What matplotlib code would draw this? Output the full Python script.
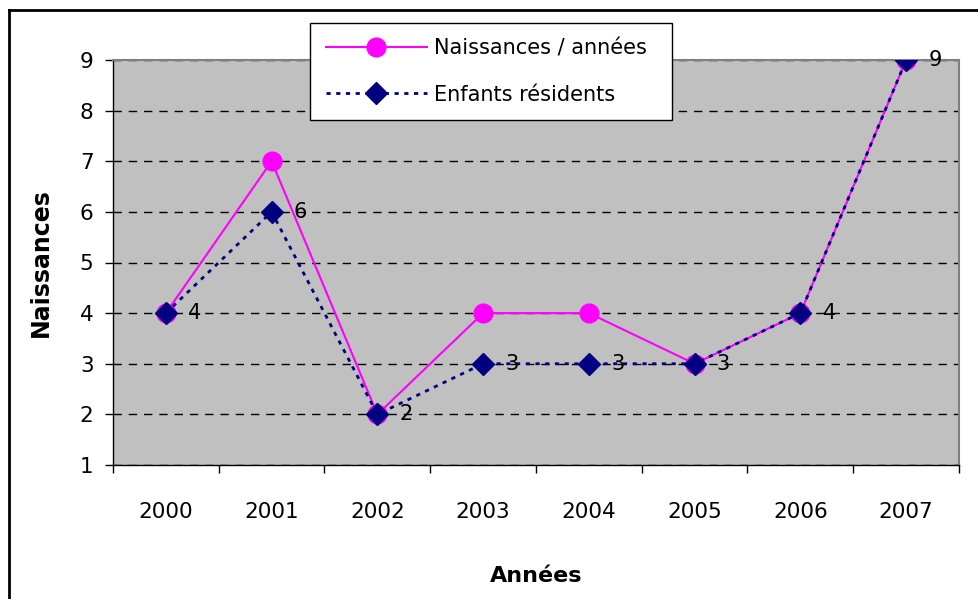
import matplotlib
matplotlib.use("Agg")
import matplotlib.pyplot as plt
from matplotlib.lines import Line2D

years = ["2000", "2001", "2002", "2003", "2004", "2005", "2006", "2007"]
naissances = [4, 7, 2, 4, 4, 3, 4, 9]
enfants = [4, 6, 2, 3, 3, 3, 4, 9]
y_ticks = [1, 2, 3, 4, 5, 6, 7, 8, 9]

plt.rcParams['font.family'] = ['DejaVu Sans']

W, H = 979, 599
fig = plt.figure(figsize=(W / 100, H / 100), dpi=100)
fig.patch.set_facecolor("white")

left, right, top, bottom = 113, 959, 60, 465
ax = fig.add_axes([left / W, 1 - bottom / H, (right - left) / W, (bottom - top) / H])
ax.set_facecolor("#C0C0C0")

x = list(range(len(years)))
ax.plot(x, naissances, color="#FF00FF", lw=1.5, marker="o", markersize=13.5,
        markerfacecolor="#FF00FF", markeredgecolor="#FF00FF", label="Naissances / années", zorder=3)
ax.plot(x, enfants, color="#000080", lw=2, linestyle=(0, (1.5, 2)), marker="D", markersize=11.5,
        markerfacecolor="#000080", markeredgecolor="#000080", label="Enfants résidents", zorder=4)

for xi, v in zip(x, enfants):
    ax.annotate(str(v), (xi, v), xytext=(16, 0), textcoords="offset points",
                va="center", ha="left", fontsize=15, color="black", zorder=5)

ax.set_xlim(-0.5, len(years) - 0.5)
ax.set_ylim(1, 9)
ax.set_yticks(y_ticks)
ax.set_yticklabels([str(v) for v in y_ticks])
ax.yaxis.grid(True, color="black", linestyle=(0, (6, 5)), lw=1)
ax.set_axisbelow(True)

ax.set_xticks([i - 0.5 for i in range(len(years) + 1)])
ax.set_xticklabels([])
ax.set_xticks(x, minor=True)
ax.set_xticklabels(years, minor=True)
ax.tick_params(axis="x", which="major", direction="out", length=6, width=1, color="black")
ax.tick_params(axis="x", which="minor", length=0, pad=27, labelsize=15.5)
ax.tick_params(axis="y", direction="out", length=6, width=1, color="black", pad=8, labelsize=15.5)

for s in ["top", "right"]:
    ax.spines[s].set_color("#808080")
    ax.spines[s].set_linewidth(1.5)
for s in ["left", "bottom"]:
    ax.spines[s].set_color("black")
    ax.spines[s].set_linewidth(1)

ax.set_xlabel("Années", fontsize=16, fontweight="bold")
ax.xaxis.set_label_coords(0.5, -(566 - bottom) / (bottom - top))
ax.set_ylabel("Naissances", fontsize=17, fontweight="bold")
ax.yaxis.set_label_coords(-(left - 53) / (right - left), 0.5)

# legend
lx0, ly0, lx1, ly1 = 310, 23, 672, 117
bx = (lx0 - left) / (right - left)
by = 1 - (ly1 - top) / (bottom - top)
bw = (lx1 - lx0) / (right - left)
bh = (ly1 - ly0) / (bottom - top)
leg = ax.legend(loc="upper left", bbox_to_anchor=(bx, by, bw, bh),
                mode="expand", fontsize=15, frameon=True, fancybox=False, shadow=False,
                borderpad=0.75, handlelength=4.85, handletextpad=0.35, labelspacing=1.25,
                borderaxespad=0)
leg.get_frame().set_edgecolor("black")
leg.get_frame().set_linewidth(1)
leg.get_frame().set_facecolor("white")
leg.get_frame().set_alpha(1)
leg.set_zorder(10)
leg.set_clip_on(False)

# outer chart frame (top and left edges visible)
fig.add_artist(Line2D([9 / W, 1], [1 - 10 / H, 1 - 10 / H], color="black", lw=2))
fig.add_artist(Line2D([9 / W, 9 / W], [0, 1 - 10 / H], color="black", lw=2))

fig.savefig("out.png", dpi=100)
